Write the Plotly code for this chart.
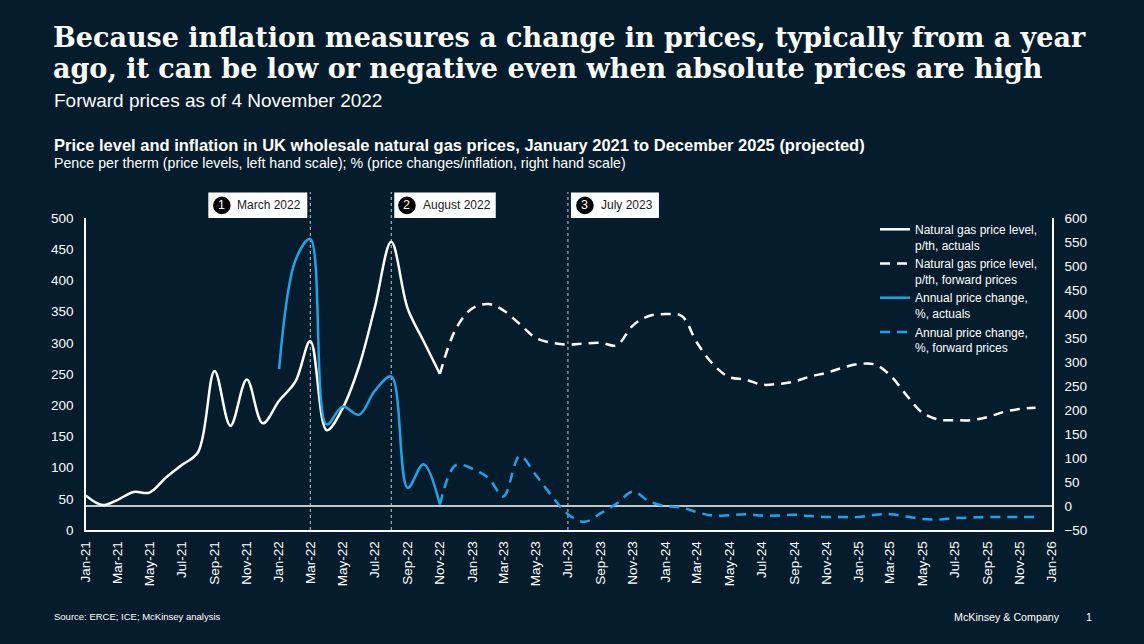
import plotly.graph_objects as go
import pandas as pd

# ---------------- data ----------------
months = pd.date_range("2021-01-01", periods=60, freq="MS")  # Jan-21 .. Dec-25

tick_dates = pd.date_range("2021-01-01", "2026-01-01", freq="2MS")
tick_labels = ["Jan-21", "Mar-21", "May-21", "Jul-21", "Sep-21", "Nov-21",
               "Jan-22", "Mar-22", "May-22", "Jul-22", "Sep-22", "Nov-22",
               "Jan-23", "Mar-23", "May-23", "Jul-23", "Sep-23", "Nov-23",
               "Jan-24", "Mar-24", "May-24", "Jul-24", "Sep-24", "Nov-24",
               "Jan-25", "Mar-25", "May-25", "Jul-25", "Sep-25", "Nov-25",
               "Jan-26"]

# Natural gas price level, p/th, actuals (Jan-21 .. Nov-22)
gas_actual = [55, 40, 48, 61, 60, 84, 104, 125, 255, 167, 241, 171,
              207, 238, 303, 160, 195, 262, 357, 462, 355, 303, 250]
# Natural gas price level, p/th, forward prices (Nov-22 .. Dec-25)
gas_forward = [250, 322, 355, 362, 352, 330, 308, 300, 297, 299, 300, 296,
               328, 343, 346, 343, 300, 265, 245, 241, 233, 234, 238, 246,
               252, 260, 266, 265, 248, 216, 188, 177, 176, 176, 181, 189,
               194, 196]
# Annual price change, %, actuals (Jan-22 .. Nov-22)
chg_actual = [285, 512, 556, 170, 207, 190, 240, 270, 38, 87, 3]
# Annual price change, %, forward prices (Nov-22 .. Dec-25)
chg_forward = [3, 85, 78, 58, 20, 104, 65, 20, -17, -33, -15, 5,
               30, 10, 0, -3, -13, -20, -19, -17, -20, -20, -18, -21,
               -23, -23, -23, -18, -17, -22, -27, -28, -25, -24, -23, -23,
               -23, -23]

event_dates = ["2022-03-01", "2022-08-01", "2023-07-01"]
event_nums = ["1", "2", "3"]
event_labels = ["March 2022", "August 2022", "July 2023"]

left_ticks = list(range(0, 501, 50))
right_ticks = list(range(-50, 601, 50))

title_lines = ["Because inflation measures a change in prices, typically from a year",
               "ago, it can be low or negative even when absolute prices are high"]

# ---------------- style ----------------
BG = "#051c2c"
WHITE = "#ffffff"
BLUE = "#1fa3e6"
SANS = "Liberation Sans, Arial, sans-serif"
SERIF = "DejaVu Serif, serif"
W, H = 1144, 644
ML, MR, MT, MB = 86, 92, 218, 114
PW, PH = W - ML - MR, H - MT - MB


def px_x(px):
    return (px - ML) / PW


def px_y(py):
    return (H - MB - py) / PH


fig = go.Figure()
fig.add_trace(go.Scatter(x=months[0:23], y=gas_actual, mode="lines",
                         name="Natural gas price level,<br>p/th, actuals",
                         line=dict(color=WHITE, width=2.5, shape="spline")))
fig.add_trace(go.Scatter(x=months[22:60], y=gas_forward, mode="lines",
                         name="Natural gas price level,<br>p/th, forward prices",
                         line=dict(color=WHITE, width=2.5, shape="spline", dash="10px,7px")))
fig.add_trace(go.Scatter(x=months[12:23], y=chg_actual, mode="lines", yaxis="y2",
                         name="Annual price change,<br>%, actuals",
                         line=dict(color=BLUE, width=2.5, shape="spline")))
fig.add_trace(go.Scatter(x=months[22:60], y=chg_forward, mode="lines", yaxis="y2",
                         name="Annual price change,<br>%, forward prices",
                         line=dict(color=BLUE, width=2.5, shape="spline", dash="10px,7px")))

shapes = []
annotations = []

# zero line of the right-hand scale
shapes.append(dict(type="line", xref="paper", x0=0, x1=1, yref="y2", y0=0, y1=0,
                   line=dict(color=WHITE, width=1.5), layer="below"))

box_geom = [(-102, -3, -88.5, -75), (3, 104.5, 15.7, 30), (3, 91, 17, 31)]
for d, n, lab, (bx0, bx1, cx, tx) in zip(event_dates, event_nums, event_labels, box_geom):
    shapes.append(dict(type="line", xref="x", x0=d, x1=d, yref="paper", y0=0,
                       y1=1 + 26 / PH, line=dict(color="#c3c9d1", width=1, dash="dot"),
                       layer="below"))
    shapes.append(dict(type="rect", xref="x", xsizemode="pixel", xanchor=d, x0=bx0, x1=bx1,
                       yref="paper", ysizemode="pixel", yanchor=1, y0=0, y1=25.5,
                       fillcolor=WHITE, line=dict(width=0), layer="above"))
    shapes.append(dict(type="circle", xref="x", xsizemode="pixel", xanchor=d,
                       x0=cx - 8.8, x1=cx + 8.8, yref="paper", ysizemode="pixel",
                       yanchor=1, y0=12.6 - 8.8, y1=12.6 + 8.8,
                       fillcolor="#000000", line=dict(width=0), layer="above"))
    annotations.append(dict(text=n, xref="x", x=d, xshift=cx, yref="paper", y=1, yshift=12.6,
                            xanchor="center", yanchor="middle", showarrow=False,
                            font=dict(family=SANS, size=12.5, color=WHITE)))
    annotations.append(dict(text=lab, xref="x", x=d, xshift=tx, yref="paper", y=1, yshift=12.6,
                            xanchor="left", yanchor="middle", showarrow=False,
                            font=dict(family=SANS, size=12, color="#1b1b1b")))

# titles
for line_txt, ypx in zip(title_lines, [37, 69]):
    annotations.append(dict(text=line_txt, xref="paper", yref="paper", x=px_x(51), y=px_y(ypx),
                            xanchor="left", yanchor="middle", showarrow=False,
                            font=dict(family=SERIF, size=27, color=WHITE, weight="bold")))
annotations.append(dict(text="Forward prices as of 4 November 2022", xref="paper", yref="paper",
                        x=px_x(52), y=px_y(100), xanchor="left", yanchor="middle", showarrow=False,
                        font=dict(family=SANS, size=19, color=WHITE)))
annotations.append(dict(text="<b>Price level and inflation in UK wholesale natural gas prices, "
                             "January 2021 to December 2025 (projected)</b>",
                        xref="paper", yref="paper", x=px_x(52), y=px_y(145), xanchor="left",
                        yanchor="middle", showarrow=False,
                        font=dict(family=SANS, size=16.5, color=WHITE)))
annotations.append(dict(text="Pence per therm (price levels, left hand scale); "
                             "% (price changes/inflation, right hand scale)",
                        xref="paper", yref="paper", x=px_x(52), y=px_y(163), xanchor="left",
                        yanchor="middle", showarrow=False,
                        font=dict(family=SANS, size=14.2, color=WHITE)))
annotations.append(dict(text="Source: ERCE; ICE; McKinsey analysis", xref="paper", yref="paper",
                        x=px_x(52), y=px_y(616), xanchor="left", yanchor="middle", showarrow=False,
                        font=dict(family=SANS, size=9.5, color=WHITE)))
annotations.append(dict(text="McKinsey & Company", xref="paper", yref="paper",
                        x=px_x(952), y=px_y(617), xanchor="left", yanchor="middle", showarrow=False,
                        font=dict(family=SANS, size=10.7, color=WHITE)))
annotations.append(dict(text="1", xref="paper", yref="paper",
                        x=px_x(1089), y=px_y(617), xanchor="center", yanchor="middle",
                        showarrow=False, font=dict(family=SANS, size=10.7, color=WHITE)))

fig.update_layout(
    width=W, height=H,
    margin=dict(l=ML, r=MR, t=MT, b=MB, autoexpand=False),
    paper_bgcolor=BG, plot_bgcolor=BG,
    font=dict(family=SANS, color=WHITE, size=13.5),
    showlegend=True,
    legend=dict(x=px_x(875), y=px_y(215), xanchor="left", yanchor="top",
                bgcolor="rgba(0,0,0,0)", font=dict(family=SANS, size=12, color=WHITE),
                valign="top", tracegroupgap=0, itemwidth=30),
    xaxis=dict(type="date", range=["2021-01-01", "2026-01-01"], tickmode="array",
               tickvals=list(tick_dates), ticktext=tick_labels, tickangle=-90,
               showgrid=False, zeroline=False, showline=True, linecolor=WHITE, linewidth=1.5,
               ticks="", ticklabelstandoff=4, tickfont=dict(size=13.5, color=WHITE)),
    yaxis=dict(range=[0, 500], tickvals=left_ticks, showgrid=False, zeroline=False,
               showline=True, linecolor=WHITE, linewidth=1.5, ticks="",
               ticklabelstandoff=8, tickfont=dict(size=13.5, color=WHITE)),
    yaxis2=dict(range=[-50, 600], tickvals=right_ticks, overlaying="y", side="right",
                showgrid=False, zeroline=False, showline=True, linecolor=WHITE, linewidth=1.5,
                ticks="", ticklabelstandoff=8, tickfont=dict(size=13.5, color=WHITE)),
    shapes=shapes,
    annotations=annotations,
)

fig.write_html("out.html", config={"displayModeBar": False},
               post_script="document.body.style.margin='0';")
